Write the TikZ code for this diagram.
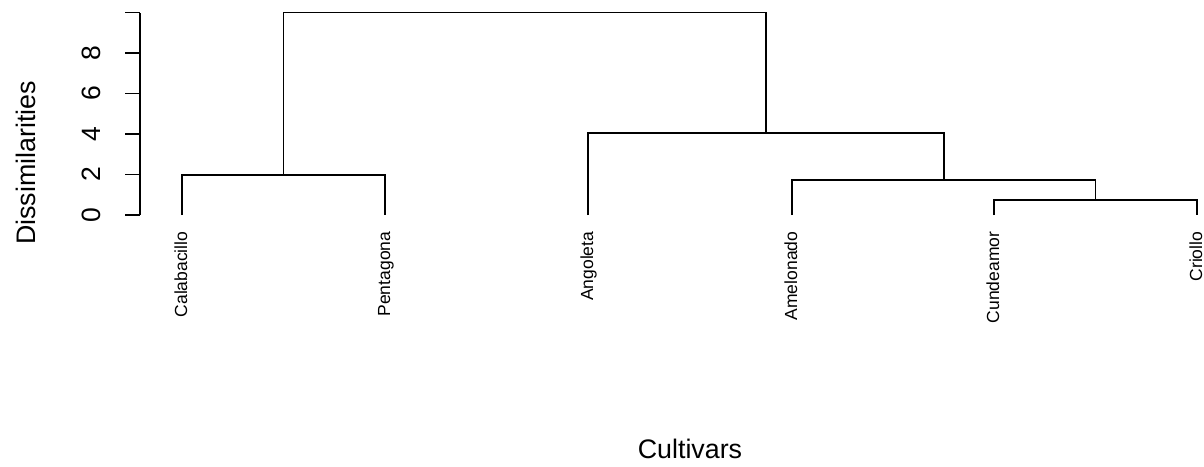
\documentclass[tikz,border=0pt]{standalone}
\usepackage{fontspec}
\setmainfont{Liberation Sans}
\begin{document}
\begin{tikzpicture}[x=1pt, y=-1pt, line width=1.5pt,
	leaf/.style={rotate=90, anchor=base east, inner sep=0pt, font=\fontsize{17.5}{20}\selectfont},
	ticklabel/.style={rotate=90, anchor=base, inner sep=0pt, font=\fontsize{26.5}{30}\selectfont},
	axislabel/.style={anchor=base, inner sep=0pt, font=\fontsize{26.8}{30}\selectfont}]
	
	\useasboundingbox (0,0) rectangle (1204,466);
	
	\def\yzero{215} %Höhe 0
	\def\ystep{20.25}%pixel je Einheit
	
	% Achse
	\draw (140,\yzero) -- (140,{\yzero-10*\ystep});
	\foreach \v in {0,2,...,10}
		\draw (125,{\yzero-\v*\ystep}) -- (140,{\yzero-\v*\ystep});
	\foreach \v in {0,2,...,8}
		\node[ticklabel] (tick\v) at (100,{\yzero-\v*\ystep}) {\v};
	
	% Blätter
	\coordinate (cal) at (182,\yzero);
	\coordinate (pen) at (385,\yzero);
	\coordinate (ang) at (588,\yzero);
	\coordinate (ame) at (792,\yzero);
	\coordinate (cun) at (994,\yzero);
	\coordinate (cri) at (1197,\yzero);
	
	% Verbindungen
	\coordinate (m1) at (283.5,175);  %Calabacillo + Pentagona
	\coordinate (m2) at (1095.5,200); %Cundeamor + Criollo
	\coordinate (m3) at (943.75,180); %Amelonado + m2
	\coordinate (m4) at (765.9,133);  %Angoleta + m3
	\coordinate (m5) at (524.7,12.5); %alle
	
	\draw (cal) |- (m1) -| (pen);
	\draw (cun) |- (m2) -| (cri);
	\draw (ame) |- (m3) -| (m2);
	\draw (ang) |- (m4) -| (m3);
	\draw (m1) |- (m5) -| (m4);
	
	% Beschriftungen
	\node[leaf] (calLabel) at (187,231) {Calabacillo};
	\node[leaf] (penLabel) at (390,231) {Pentagona};
	\node[leaf] (angLabel) at (593,231) {Angoleta};
	\node[leaf] (ameLabel) at (797,231) {Amelonado};
	\node[leaf] (cunLabel) at (999,231) {Cundeamor};
	\node[leaf] (criLabel) at (1202,231) {Criollo};
	
	\node[axislabel, rotate=90] (ylabel) at (35,163) {Dissimilarities};
	\node[axislabel] (xlabel) at (690,458) {Cultivars};
	
\end{tikzpicture}
\end{document}
